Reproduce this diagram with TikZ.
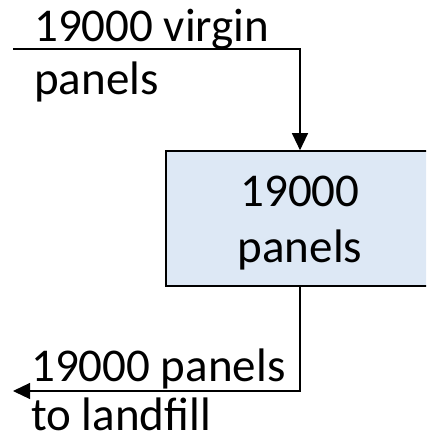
\documentclass[tikz,border=0pt]{standalone}
\usepackage{fontspec}
\setmainfont{Carlito}
\usetikzlibrary{arrows.meta}
\definecolor{boxfill}{RGB}{221,232,245}
\tikzset{
  >={Triangle[length=17pt,width=16pt]},
  flow/.style={line width=1.2pt, ->},
  lbl/.style={inner sep=0pt, anchor=base west, font=\fontsize{47}{56}\selectfont},
  stock/.style={draw=black, line width=1.6pt, fill=boxfill},
}
\begin{document}
\begin{tikzpicture}[x=1pt,y=-1pt]
  \useasboundingbox (0,0) rectangle (426,438);
  \clip (0,0) rectangle (426,438);
  % stock box
  \node[stock, minimum width=268pt, minimum height=135pt, inner sep=0pt] (box) at (300,218.5) {};
  \node[inner sep=0pt, anchor=base, font=\fontsize{47}{56}\selectfont] (boxl1) at (300,206) {19000};
  \node[inner sep=0pt, anchor=base, font=\fontsize{47}{56}\selectfont] (boxl2) at (300,262) {panels};
  % inflow
  \coordinate (src) at (13,49);
  \node[lbl] (inl1) at (34,42) {19000 virgin};
  \node[lbl] (inl2) at (34,95) {panels};
  \draw[flow] (src) -| (box.north);
  % outflow
  \coordinate (sink) at (13,391);
  \node[lbl] (outl1) at (31,381) {19000 panels};
  \node[lbl] (outl2) at (31,430) {to landfill};
  \draw[flow] (box.south) |- (sink);
\end{tikzpicture}
\end{document}
